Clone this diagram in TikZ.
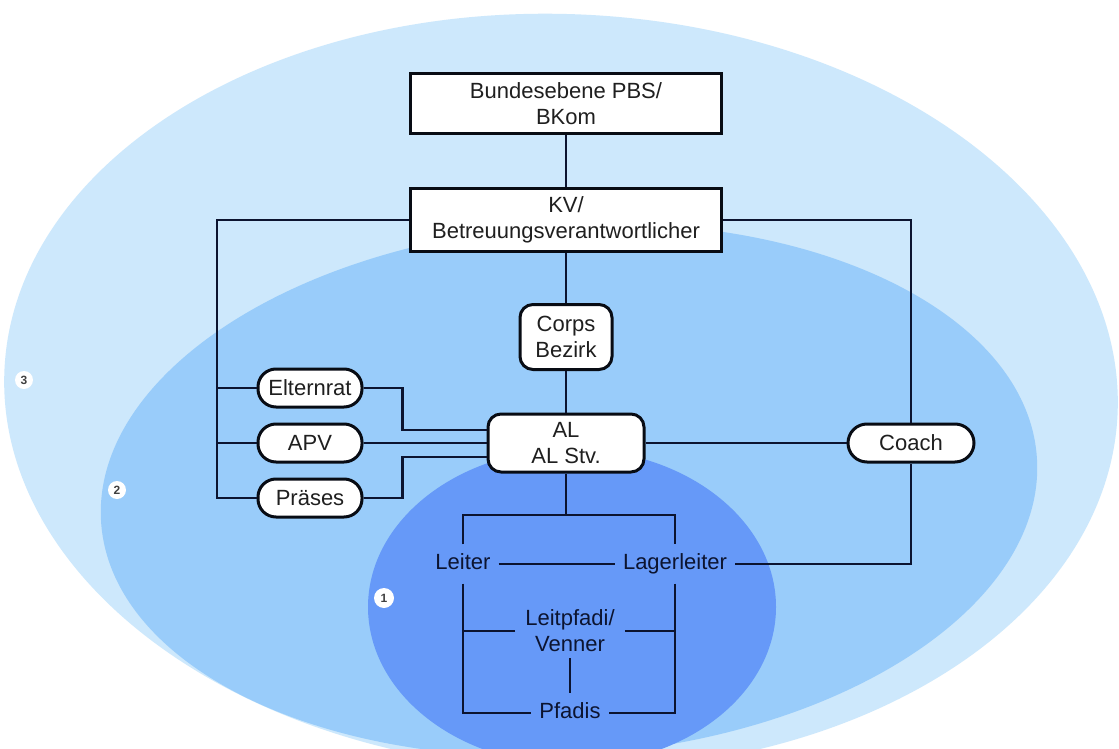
\documentclass[tikz,border=0pt]{standalone}
\usepackage{fontspec}
\setmainfont{Liberation Sans}
\usepackage{tikz}
\usetikzlibrary{positioning}
\definecolor{outerblue}{RGB}{205,232,252}
\definecolor{midblue}{RGB}{153,204,250}
\definecolor{innerblue}{RGB}{102,153,248}
\definecolor{navy}{RGB}{12,20,48}
\definecolor{boxline}{RGB}{8,12,20}
\tikzstyle{block} = [rectangle, draw=boxline, line width=3pt, fill=white, align=center, text=black!88, font=\fontsize{22}{26}\selectfont, inner sep=2pt]
\tikzstyle{rblock} = [block, rounded corners=13pt]
\tikzstyle{pill} = [block, rounded corners=18pt, minimum width=104pt, minimum height=38pt]
\tikzstyle{role} = [align=center, text=navy, font=\fontsize{22}{26}\selectfont, inner xsep=8pt, inner ysep=6pt]
\tikzstyle{roleone} = [text=navy, font=\fontsize{22}{26}\selectfont, inner xsep=8pt, inner ysep=9pt, text height=16pt, text depth=5pt]
\tikzstyle{badge} = [circle, fill=white, inner sep=0pt, minimum size=18pt, text=black!75, font=\fontsize{12}{12}\selectfont\bfseries]
\tikzstyle{line} = [draw=navy, line width=2.8pt]

\begin{document}
\begin{tikzpicture}[x=1pt, y=-1pt, node distance=55pt]
    \useasboundingbox (0,0) rectangle (1119,749);
    \clip (0,0) rectangle (1119,749);
    \fill [white] (0,0) rectangle (1119,749);
    % Levels
    \fill [outerblue, rotate around={-2:(561,392)}] (561,392) ellipse [x radius=557pt, y radius=378pt];
    \fill [midblue, rotate around={4:(569,490)}] (569,490) ellipse [x radius=469pt, y radius=265pt];
    \fill [innerblue] (572,607) ellipse [x radius=204pt, y radius=158pt];
    \node [badge] (three) at (24,380) {3};
    \node [badge] (two) at (117,490) {2};
    \node [badge, minimum size=20pt] (one) at (384,598) {1};
    % Blocks
    \node [block, minimum width=311pt, minimum height=60pt] (bund) at (566,104) {Bundesebene PBS/\\BKom};
    \node [block, minimum width=311pt, minimum height=63pt] (kv) at (566,220) {KV/\\Betreuungsverantwortlicher};
    \node [rblock, minimum width=92pt, minimum height=65pt] (corps) at (566,337) {Corps\\Bezirk};
    \node [rblock, minimum width=156pt, minimum height=58pt] (al) at (566,443) {AL\\AL Stv.};
    \node [pill] (eltern) at (310,388) {Elternrat};
    \node [pill, below of=eltern] (apv) {APV};
    \node [pill, below of=apv] (praeses) {Präses};
    \node [pill, minimum width=126pt, rounded corners=19pt] (coach) at (911,443) {Coach};
    % Roles
    \node [roleone] (leiter) at (463,564) {Leiter};
    \node [roleone] (lager) at (675,564) {Lagerleiter};
    \node [role, inner xsep=10pt] (leitpf) at (570,631) {Leitpfadi/\\Venner};
    \node [roleone] (pfadis) at (570,713) {Pfadis};
    \coordinate (lbus) at (217,498);
    \coordinate (bus) at (566,515);
    % Lines
    \path [line] (bund) -- (kv);
    \path [line] (kv) -- (corps);
    \path [line] (corps) -- (al);
    \path [line] (kv.west) -| (lbus) -- (praeses);
    \path [line] (eltern) -- (eltern -| lbus);
    \path [line] (apv) -- (apv -| lbus);
    \path [line] (eltern.east) -- ++(39,0) |- ([yshift=13pt]al.west);
    \path [line] (praeses.east) -- ++(39,0) |- ([yshift=-14pt]al.west);
    \path [line] (apv) -- (al);
    \path [line] (al) -- (coach);
    \path [line] (kv.east) -| (coach);
    \path [line] (al) -- (bus);
    \path [line] (leiter) |- (bus) -| (lager);
    \path [line] (leiter) -- (lager);
    \path [line] (lager) -| (coach);
    \path [line] (leiter) |- (pfadis);
    \path [line] (lager) |- (pfadis);
    \path [line] (leitpf) -- (leitpf -| leiter);
    \path [line] (leitpf) -- (leitpf -| lager);
    \path [line] (leitpf) -- (pfadis);
\end{tikzpicture}
\end{document}
